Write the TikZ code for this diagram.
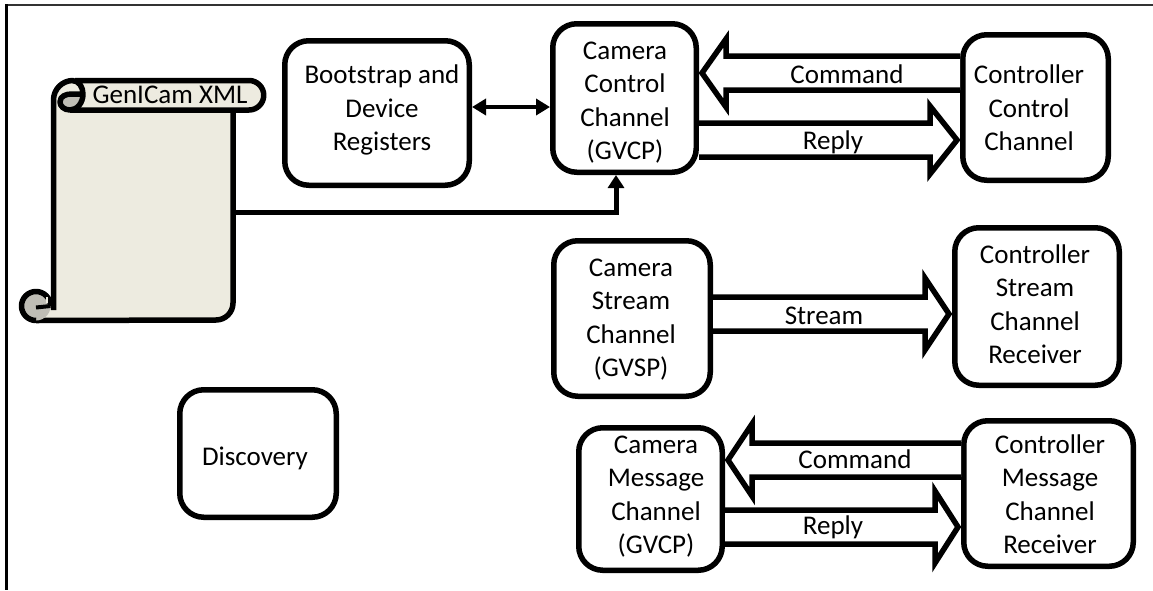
\documentclass[tikz,border=0pt]{standalone}
\usepackage{fontspec}
\setmainfont{Carlito}
\usetikzlibrary{arrows.meta,calc}
\definecolor{parch}{HTML}{EDEBE0}
\definecolor{curl}{HTML}{BFBDB5}
\tikzset{
  bx/.style={draw=black,line width=5.5pt,rounded corners=24pt,inner sep=0pt,fill=white,font=\fontsize{27}{33.5}\selectfont},
  lbl/.style={inner sep=0pt,font=\fontsize{27}{32}\selectfont},
  blk/.style={draw=black,line width=5.5pt,fill=white,miter limit=10,line join=miter},
  scrollline/.style={draw=black,line width=5.5pt,line join=round},
  thinarrow/.style={draw=black,line width=5pt},
}
\newcommand\inbox[3]{\makebox[0pt][c]{\kern#1\raisebox{#2}[0pt][0pt]{\begin{tabular}[c]{@{}c@{}}#3\end{tabular}}}}
\newcommand\boxn[8]{%
  \pgfmathsetmacro\cxx{(#2+#4)/2}\pgfmathsetmacro\cyy{(#3+#5)/2}%
  \pgfmathsetmacro\ww{#4-#2-5.5}\pgfmathsetmacro\hh{#5-#3-5.5}%
  \pgfmathsetmacro\dxx{2*(#6-\cxx)}\pgfmathsetmacro\dyy{\cyy-#7-9}%
  \node[bx,minimum width=\ww pt,minimum height=\hh pt] (#1) at (\cxx,\cyy) {\inbox{\dxx pt}{\dyy pt}{#8}};}
% block arrow to the right: from node, to node, y centre, half shaft, half head, head length
\newcommand\rarrow[6]{\draw[blk] (#1.east |- 0,#3-#4) -- ($(#2.west |- 0,#3-#4)+(-#6,0)$) -- ($(#2.west |- 0,#3-#5)+(-#6,0)$) -- ($(#2.west |- 0,#3)+(-3,0)$) -- ($(#2.west |- 0,#3+#5)+(-#6,0)$) -- ($(#2.west |- 0,#3+#4)+(-#6,0)$) -- (#1.east |- 0,#3+#4);}
\newcommand\larrow[6]{\draw[blk] (#1.west |- 0,#3-#4) -- ($(#2.east |- 0,#3-#4)+(#6,0)$) -- ($(#2.east |- 0,#3-#5)+(#6,0)$) -- ($(#2.east |- 0,#3)+(3,0)$) -- ($(#2.east |- 0,#3+#5)+(#6,0)$) -- ($(#2.east |- 0,#3+#4)+(#6,0)$) -- (#1.west |- 0,#3+#4);}
\begin{document}
\begin{tikzpicture}[x=1pt,y=-1pt]
\useasboundingbox (0,0) rectangle (1153,590);
\fill[white] (0,0) rectangle (1153,590);
% frame
\draw[draw=black!80,line width=2pt] (6,5) -- (1153,5);
\draw[draw=black,line width=2.5pt] (6.5,4) -- (6.5,590);
% boxes
\boxn{boot}{282}{38}{472}{188}{382}{108}{Bootstrap and\\Device\\Registers}
\boxn{ccam}{550}{21}{699}{175}{625}{100}{Camera\\Control\\Channel\\(GVCP)}
\boxn{cctl}{960}{32}{1111}{183}{1029}{108}{Controller\\Control\\Channel}
\boxn{scam}{551}{238}{713}{399}{631}{317}{Camera\\Stream\\Channel\\(GVSP)}
\boxn{sctl}{952}{225}{1122}{388}{1035}{304}{Controller\\Stream\\Channel\\Receiver}
\boxn{mcam}{576}{425}{725}{573}{656}{494}{Camera\\Message\\Channel\\(GVCP)}
\boxn{mctl}{961}{418}{1136}{569}{1050}{494}{Controller\\Message\\Channel\\Receiver}
\boxn{disc}{177}{387}{339}{520}{255}{456}{Discovery}
% scroll
\path[fill=parch] (53.5,100) arc[start angle=180,end angle=270,radius=19.5] -- (249,80.5) arc[start angle=-90,end angle=90,radius=14.75] -- (233,110) -- (233,303) arc[start angle=0,end angle=90,radius=17] -- (38,320) -- (53.5,300) -- cycle;
\fill[curl] (61,102) .. controls (64,96) and (72,97) .. (81,97) .. controls (80,105) and (74,110) .. (70,110) .. controls (64,110) and (61,106) .. (61,102) -- cycle;
\draw[scrollline] (75,80.5) -- (249,80.5) arc[start angle=-90,end angle=90,radius=14.75] -- (70,110);
\draw[scrollline] (233,110) -- (233,303) arc[start angle=0,end angle=90,radius=17] -- (36,320.5);
\draw[scrollline] (53.5,310) -- (53.5,100) arc[start angle=180,end angle=270,radius=19.5] -- (72,80.5) .. controls (79,80.5) and (83,87) .. (83,94) .. controls (83,103) and (77,110) .. (70,110) .. controls (64,110) and (60,106) .. (60,102) .. controls (60,96) and (66,94) .. (72,94) -- (83,94);
\fill[curl] (36,306) circle[radius=14.5];
\draw[scrollline] (36,320.5) arc[start angle=90,end angle=360,radius=14.5];
\draw[scrollline,line width=4pt] (50.5,306) -- (36,307.5);
\draw[draw=parch,line width=1.2pt] (47,297) -- (47,303);
\node[inner sep=0pt,minimum width=180pt,minimum height=240pt] (scroll) at (143,200) {};
\node[lbl] (gx) at (170,95) {GenICam XML};
% connectors
\draw[thinarrow,-{Triangle[length=13pt,width=16pt]}] (scroll.east |- 0,212.5) -| (ccam.south -| 616,0);
\draw[draw=black,line width=3.5pt,{Triangle[length=14pt,width=16pt]}-{Triangle[length=14pt,width=16pt]}] (boot.east |- 0,107) -- (ccam.west |- 0,107);
% block arrows
\larrow{cctl}{ccam}{73}{17}{34}{27}
\rarrow{ccam}{cctl}{140}{17}{34}{30}
\rarrow{scam}{sctl}{314}{17}{36}{27}
\larrow{mctl}{mcam}{460}{17}{36}{27}
\rarrow{mcam}{mctl}{527}{17}{36}{26}
% labels
\node[lbl] (l1) at (847,74) {Command};
\node[lbl] (l2) at (833,142) {Reply};
\node[lbl] (l3) at (824,316) {Stream};
\node[lbl] (l4) at (855,459) {Command};
\node[lbl] (l5) at (833,527) {Reply};
\end{tikzpicture}
\end{document}
